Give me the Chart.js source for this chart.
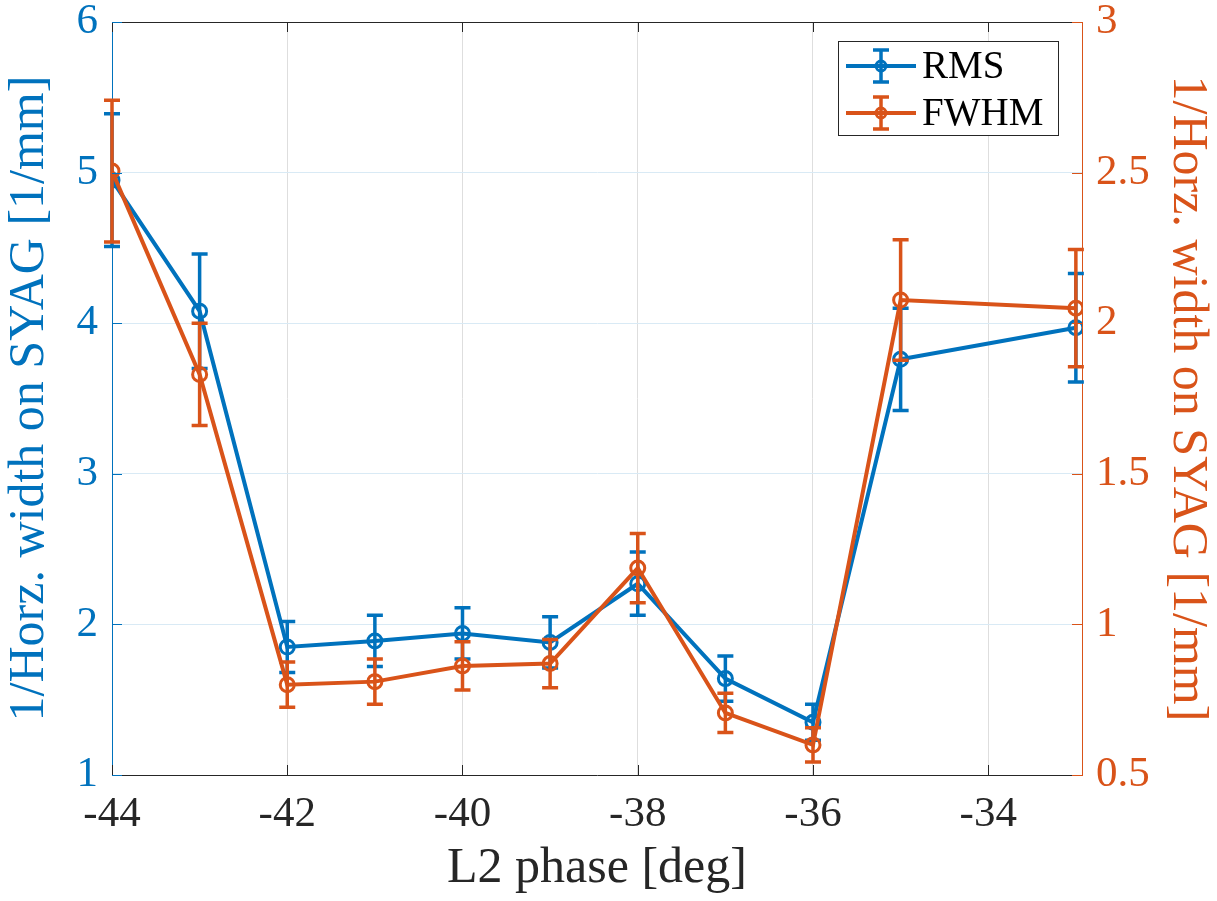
<!DOCTYPE html>
<html>
<head>
<meta charset="utf-8">
<script src="https://cdn.jsdelivr.net/npm/chart.js@4"></script>
<style>
html, body { margin: 0; padding: 0; background: #fff; }
#wrap { width: 1217px; height: 901px; }
</style>
</head>
<body>
<div id="wrap"><canvas id="chart"></canvas></div>
<script>
// data
const phases = [-44, -43, -42, -41, -40, -39, -38, -37, -36, -35, -33];
const rmsValues = [4.95, 4.08, 1.85, 1.89, 1.94, 1.88, 2.27, 1.64, 1.35, 3.76, 3.97];
const rmsErrors = [0.44, 0.38, 0.17, 0.17, 0.17, 0.17, 0.21, 0.15, 0.12, 0.34, 0.36];
const fwhmValues = [2.505, 1.83, 0.80, 0.81, 0.862, 0.87, 1.187, 0.706, 0.60, 2.077, 2.05];
const fwhmErrors = [0.235, 0.17, 0.075, 0.075, 0.08, 0.08, 0.115, 0.065, 0.057, 0.2, 0.195];
const xTicks = [-44, -42, -40, -38, -36, -34];
const leftTicks = [1, 2, 3, 4, 5, 6];
const rightTicks = [0.5, 1, 1.5, 2, 2.5, 3];

const BLUE = '#0072BD';
const ORANGE = '#D95319';
const DARK = '#262626';
const FONT = '"Liberation Serif", "DejaVu Serif", serif';

const errors = [rmsErrors, fwhmErrors];

function drawErrorBar(ctx, x, yTop, yBot, color) {
    const cap = 8;
    ctx.save();
    ctx.strokeStyle = color;
    ctx.lineWidth = 3.5;
    ctx.beginPath();
    ctx.moveTo(x, yTop); ctx.lineTo(x, yBot);
    ctx.moveTo(x - cap, yTop); ctx.lineTo(x + cap, yTop);
    ctx.moveTo(x - cap, yBot); ctx.lineTo(x + cap, yBot);
    ctx.stroke();
    ctx.restore();
}

const matlabLook = {
    id: 'matlabLook',
    afterDatasetDraw(chart, args) {
        const ds = chart.data.datasets[args.index];
        const yScale = chart.scales[ds.yAxisID];
        const xScale = chart.scales.x;
        const errs = errors[args.index];
        ds.data.forEach((p, i) => {
            const x = xScale.getPixelForValue(p.x);
            drawErrorBar(chart.ctx, x,
                yScale.getPixelForValue(p.y + errs[i]),
                yScale.getPixelForValue(p.y - errs[i]),
                ds.borderColor);
        });
    },
    afterDraw(chart) {
        const ctx = chart.ctx;
        const a = chart.chartArea;
        const tl = 10;
        ctx.save();
        ctx.lineWidth = 1;
        // top box line
        ctx.strokeStyle = DARK;
        ctx.beginPath();
        ctx.moveTo(a.left, a.top + 0.5); ctx.lineTo(a.right, a.top + 0.5);
        ctx.stroke();
        // inward ticks
        ctx.beginPath();
        xTicks.forEach(v => {
            const x = Math.round(chart.scales.x.getPixelForValue(v)) + 0.5;
            ctx.moveTo(x, a.bottom); ctx.lineTo(x, a.bottom - tl);
            ctx.moveTo(x, a.top); ctx.lineTo(x, a.top + tl);
        });
        ctx.stroke();
        ctx.strokeStyle = BLUE;
        ctx.beginPath();
        leftTicks.forEach(v => {
            const y = Math.round(chart.scales.y.getPixelForValue(v)) + 0.5;
            ctx.moveTo(a.left, y); ctx.lineTo(a.left + tl, y);
        });
        ctx.stroke();
        ctx.strokeStyle = ORANGE;
        ctx.beginPath();
        rightTicks.forEach(v => {
            const y = Math.round(chart.scales.y2.getPixelForValue(v)) + 0.5;
            ctx.moveTo(a.right, y); ctx.lineTo(a.right - tl, y);
        });
        ctx.stroke();

        // legend box
        const bx = 838, by = 41, bw = 220, bh = 94;
        ctx.fillStyle = '#fff';
        ctx.fillRect(bx, by, bw, bh);
        ctx.strokeStyle = DARK;
        ctx.strokeRect(bx + 0.5, by + 0.5, bw, bh);
        const items = [['RMS', BLUE, by + 25], ['FWHM', ORANGE, by + 72]];
        items.forEach(([label, color, y]) => {
            ctx.strokeStyle = color;
            ctx.lineWidth = 4;
            ctx.beginPath();
            ctx.moveTo(bx + 8, y); ctx.lineTo(bx + 78, y);
            ctx.stroke();
            drawErrorBar(ctx, bx + 43, y - 16, y + 16, color);
            ctx.lineWidth = 3;
            ctx.beginPath();
            ctx.arc(bx + 43, y, 5, 0, Math.PI * 2);
            ctx.stroke();
            ctx.fillStyle = '#000';
            ctx.font = '39px ' + FONT;
            ctx.textBaseline = 'middle';
            ctx.fillText(label, bx + 84, y + 2);
        });
        ctx.restore();
    }
};

function lineDataset(label, values, color, axis, order) {
    return {
        label: label,
        data: phases.map((x, i) => ({ x: x, y: values[i] })),
        borderColor: color,
        borderWidth: 4,
        pointRadius: 7,
        pointBorderWidth: 3,
        pointBackgroundColor: 'rgba(0,0,0,0)',
        pointBorderColor: color,
        yAxisID: axis,
        order: order,
        tension: 0
    };
}

function fixY(width) {
    return s => { s.width = width; s.paddingTop = 0; s.paddingBottom = 0; };
}

new Chart(document.getElementById('chart'), {
    type: 'line',
    data: {
        datasets: [
            lineDataset('RMS', rmsValues, BLUE, 'y', 1),
            lineDataset('FWHM', fwhmValues, ORANGE, 'y2', 0)
        ]
    },
    options: {
        responsive: true,
        maintainAspectRatio: false,
        animation: false,
        layout: { padding: { top: 22, left: 0, right: 0, bottom: 0 } },
        plugins: { legend: { display: false }, tooltip: { enabled: false } },
        scales: {
            x: {
                type: 'linear',
                min: -44,
                max: -32.93,
                afterBuildTicks: s => { s.ticks = xTicks.map(v => ({ value: v })); },
                afterFit: s => { s.height = 126; s.paddingLeft = 0; s.paddingRight = 0; },
                grid: { color: '#dedede', drawTicks: false },
                border: { color: DARK, width: 1 },
                ticks: { color: DARK, padding: 14, font: { family: FONT, size: 43 } },
                title: { display: true, text: 'L2 phase [deg]', color: DARK,
                         font: { family: FONT, size: 50 }, padding: { top: 0, bottom: 2 } }
            },
            y: {
                position: 'left',
                min: 1,
                max: 6,
                afterBuildTicks: s => { s.ticks = leftTicks.map(v => ({ value: v })); },
                afterFit: fixY(112),
                grid: { color: '#d9eaf5', drawTicks: false },
                border: { color: BLUE, width: 1 },
                ticks: { color: BLUE, padding: 14, font: { family: FONT, size: 43 } },
                title: { display: true, text: '1/Horz. width on SYAG [1/mm]', color: BLUE,
                         font: { family: FONT, size: 50 }, padding: { top: 0, bottom: 0 } }
            },
            y2: {
                position: 'right',
                min: 0.5,
                max: 3,
                afterBuildTicks: s => { s.ticks = rightTicks.map(v => ({ value: v })); },
                afterFit: fixY(135),
                grid: { display: false, drawTicks: false },
                border: { color: ORANGE, width: 1 },
                ticks: { color: ORANGE, padding: 14, font: { family: FONT, size: 43 },
                         callback: v => String(v) },
                title: { display: true, text: '1/Horz. width on SYAG [1/mm]', color: ORANGE,
                         font: { family: FONT, size: 50 }, padding: { top: 0, bottom: 0 } }
            }
        }
    },
    plugins: [matlabLook]
});
</script>
</body>
</html>
